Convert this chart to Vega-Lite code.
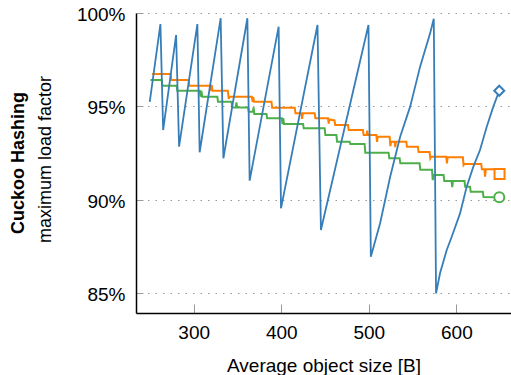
{
  "$schema": "https://vega.github.io/schema/vega-lite/v6.json",
  "width": 375,
  "height": 300,
  "autosize": {"type": "none"},
  "padding": {"left": 136, "top": 13, "right": 0, "bottom": 62},
  "background": "white",
  "config": {
    "view": {"stroke": null},
    "font": "Liberation Sans",
    "axis": {
      "domainColor": "black",
      "domainWidth": 1.5,
      "ticks": false,
      "labelColor": "black",
      "labelFont": "Liberation Sans",
      "labelFontSize": 19,
      "titleFont": "Liberation Sans",
      "titleColor": "black",
      "titleFontWeight": "normal"
    }
  },
  "title": {
    "text": "Cuckoo Hashing",
    "orient": "left",
    "anchor": "middle",
    "font": "Liberation Sans",
    "fontSize": 18,
    "fontWeight": "bold",
    "color": "black",
    "offset": 8
  },
  "datasets": {
    "curves": [
      {"series": "s1", "size": 249.8, "load": 95.25},
      {"series": "s1", "size": 262.0, "load": 99.41},
      {"series": "s1", "size": 265.1, "load": 93.74},
      {"series": "s1", "size": 279.9, "load": 98.82},
      {"series": "s1", "size": 283.3, "load": 92.85},
      {"series": "s1", "size": 304.2, "load": 99.41},
      {"series": "s1", "size": 306.8, "load": 92.55},
      {"series": "s1", "size": 330.8, "load": 99.72},
      {"series": "s1", "size": 333.9, "load": 92.23},
      {"series": "s1", "size": 361.3, "load": 99.72},
      {"series": "s1", "size": 363.9, "load": 91.03},
      {"series": "s1", "size": 397.0, "load": 99.27},
      {"series": "s1", "size": 399.7, "load": 89.55},
      {"series": "s1", "size": 441.4, "load": 99.36},
      {"series": "s1", "size": 445.3, "load": 88.39},
      {"series": "s1", "size": 499.6, "load": 99.36},
      {"series": "s1", "size": 502.3, "load": 86.96},
      {"series": "s1", "size": 512.9, "load": 88.75},
      {"series": "s1", "size": 524.4, "load": 91.24},
      {"series": "s1", "size": 535.8, "load": 93.38},
      {"series": "s1", "size": 547.2, "load": 94.99},
      {"series": "s1", "size": 558.6, "load": 97.13},
      {"series": "s1", "size": 570.0, "load": 98.91},
      {"series": "s1", "size": 574.2, "load": 99.69},
      {"series": "s1", "size": 576.8, "load": 85.0},
      {"series": "s1", "size": 581.4, "load": 86.09},
      {"series": "s1", "size": 589.0, "load": 87.32},
      {"series": "s1", "size": 594.7, "load": 88.03},
      {"series": "s1", "size": 604.2, "load": 89.28},
      {"series": "s1", "size": 611.8, "load": 90.71},
      {"series": "s1", "size": 619.4, "load": 91.78},
      {"series": "s1", "size": 627.0, "load": 92.67},
      {"series": "s1", "size": 634.7, "load": 93.92},
      {"series": "s1", "size": 642.2, "load": 94.99},
      {"series": "s1", "size": 649.0, "load": 95.84},

      {"series": "s2", "size": 252.5, "load": 96.74},
      {"series": "s2", "size": 273.6, "load": 96.74},
      {"series": "s2", "size": 274.4, "load": 96.42},
      {"series": "s2", "size": 294.2, "load": 96.42},
      {"series": "s2", "size": 295.0, "load": 96.11},
      {"series": "s2", "size": 318.5, "load": 96.11},
      {"series": "s2", "size": 319.5, "load": 95.84},
      {"series": "s2", "size": 320.5, "load": 96.15},
      {"series": "s2", "size": 321.5, "load": 95.84},
      {"series": "s2", "size": 339.0, "load": 95.84},
      {"series": "s2", "size": 340.0, "load": 95.40},
      {"series": "s2", "size": 341.0, "load": 95.52},
      {"series": "s2", "size": 366.5, "load": 95.52},
      {"series": "s2", "size": 367.3, "load": 95.25},
      {"series": "s2", "size": 368.1, "load": 95.50},
      {"series": "s2", "size": 368.9, "load": 95.25},
      {"series": "s2", "size": 388.8, "load": 95.25},
      {"series": "s2", "size": 389.6, "load": 94.93},
      {"series": "s2", "size": 415.4, "load": 94.93},
      {"series": "s2", "size": 416.2, "load": 94.63},
      {"series": "s2", "size": 423.0, "load": 94.63},
      {"series": "s2", "size": 423.8, "load": 94.33},
      {"series": "s2", "size": 424.6, "load": 94.63},
      {"series": "s2", "size": 438.2, "load": 94.63},
      {"series": "s2", "size": 439.0, "load": 94.37},
      {"series": "s2", "size": 453.4, "load": 94.37},
      {"series": "s2", "size": 454.2, "load": 94.08},
      {"series": "s2", "size": 455.0, "load": 94.30},
      {"series": "s2", "size": 460.8, "load": 94.25},
      {"series": "s2", "size": 461.6, "load": 94.01},
      {"series": "s2", "size": 476.2, "load": 94.01},
      {"series": "s2", "size": 477.0, "load": 93.74},
      {"series": "s2", "size": 493.3, "load": 93.74},
      {"series": "s2", "size": 494.1, "load": 93.47},
      {"series": "s2", "size": 497.4, "load": 93.47},
      {"series": "s2", "size": 498.2, "load": 93.71},
      {"series": "s2", "size": 499.0, "load": 93.47},
      {"series": "s2", "size": 508.6, "load": 93.47},
      {"series": "s2", "size": 509.4, "load": 93.11},
      {"series": "s2", "size": 510.2, "load": 93.38},
      {"series": "s2", "size": 523.8, "load": 93.38},
      {"series": "s2", "size": 524.6, "load": 92.88},
      {"series": "s2", "size": 525.4, "load": 93.11},
      {"series": "s2", "size": 529.4, "load": 93.11},
      {"series": "s2", "size": 530.2, "load": 92.83},
      {"series": "s2", "size": 531.0, "load": 93.11},
      {"series": "s2", "size": 542.8, "load": 93.11},
      {"series": "s2", "size": 543.6, "load": 92.85},
      {"series": "s2", "size": 556.0, "load": 92.85},
      {"series": "s2", "size": 556.8, "load": 92.56},
      {"series": "s2", "size": 569.4, "load": 92.56},
      {"series": "s2", "size": 570.2, "load": 92.23},
      {"series": "s2", "size": 571.0, "load": 92.31},
      {"series": "s2", "size": 588.4, "load": 92.31},
      {"series": "s2", "size": 589.2, "load": 91.96},
      {"series": "s2", "size": 590.0, "load": 92.28},
      {"series": "s2", "size": 607.4, "load": 92.28},
      {"series": "s2", "size": 608.2, "load": 91.87},
      {"series": "s2", "size": 609.0, "load": 91.92},
      {"series": "s2", "size": 628.4, "load": 91.92},
      {"series": "s2", "size": 629.2, "load": 91.64},
      {"series": "s2", "size": 632.0, "load": 91.64},
      {"series": "s2", "size": 632.8, "load": 91.24},
      {"series": "s2", "size": 633.6, "load": 91.64},
      {"series": "s2", "size": 645.0, "load": 91.64},
      {"series": "s2", "size": 645.8, "load": 91.39},
      {"series": "s2", "size": 649.3, "load": 91.39},

      {"series": "s3", "size": 250.6, "load": 96.42},
      {"series": "s3", "size": 263.4, "load": 96.42},
      {"series": "s3", "size": 264.2, "load": 96.11},
      {"series": "s3", "size": 280.5, "load": 96.11},
      {"series": "s3", "size": 281.3, "load": 95.84},
      {"series": "s3", "size": 307.0, "load": 95.84},
      {"series": "s3", "size": 307.8, "load": 95.52},
      {"series": "s3", "size": 308.8, "load": 95.83},
      {"series": "s3", "size": 309.8, "load": 95.52},
      {"series": "s3", "size": 327.0, "load": 95.52},
      {"series": "s3", "size": 327.8, "load": 95.25},
      {"series": "s3", "size": 343.2, "load": 95.25},
      {"series": "s3", "size": 344.0, "load": 94.94},
      {"series": "s3", "size": 348.0, "load": 94.94},
      {"series": "s3", "size": 348.8, "load": 95.22},
      {"series": "s3", "size": 349.6, "load": 94.94},
      {"series": "s3", "size": 362.1, "load": 94.94},
      {"series": "s3", "size": 362.9, "load": 94.72},
      {"series": "s3", "size": 367.6, "load": 94.72},
      {"series": "s3", "size": 368.4, "load": 94.95},
      {"series": "s3", "size": 369.2, "load": 94.60},
      {"series": "s3", "size": 383.1, "load": 94.60},
      {"series": "s3", "size": 383.9, "load": 94.37},
      {"series": "s3", "size": 400.6, "load": 94.37},
      {"series": "s3", "size": 401.4, "load": 94.06},
      {"series": "s3", "size": 402.3, "load": 94.37},
      {"series": "s3", "size": 403.2, "load": 94.06},
      {"series": "s3", "size": 424.9, "load": 94.06},
      {"series": "s3", "size": 425.7, "load": 93.83},
      {"series": "s3", "size": 449.6, "load": 93.83},
      {"series": "s3", "size": 450.4, "load": 93.47},
      {"series": "s3", "size": 463.0, "load": 93.47},
      {"series": "s3", "size": 463.8, "load": 93.11},
      {"series": "s3", "size": 478.1, "load": 93.11},
      {"series": "s3", "size": 478.9, "load": 92.99},
      {"series": "s3", "size": 495.2, "load": 92.99},
      {"series": "s3", "size": 496.0, "load": 92.53},
      {"series": "s3", "size": 522.6, "load": 92.53},
      {"series": "s3", "size": 523.4, "load": 92.23},
      {"series": "s3", "size": 535.2, "load": 92.23},
      {"series": "s3", "size": 536.0, "load": 91.96},
      {"series": "s3", "size": 558.0, "load": 91.96},
      {"series": "s3", "size": 558.8, "load": 91.62},
      {"series": "s3", "size": 572.2, "load": 91.62},
      {"series": "s3", "size": 573.0, "load": 91.06},
      {"series": "s3", "size": 573.8, "load": 91.33},
      {"series": "s3", "size": 585.4, "load": 91.33},
      {"series": "s3", "size": 586.2, "load": 91.01},
      {"series": "s3", "size": 594.5, "load": 91.01},
      {"series": "s3", "size": 595.3, "load": 90.69},
      {"series": "s3", "size": 596.1, "load": 91.01},
      {"series": "s3", "size": 609.3, "load": 91.01},
      {"series": "s3", "size": 610.1, "load": 90.71},
      {"series": "s3", "size": 615.6, "load": 90.71},
      {"series": "s3", "size": 616.4, "load": 90.44},
      {"series": "s3", "size": 630.2, "load": 90.44},
      {"series": "s3", "size": 631.0, "load": 90.16},
      {"series": "s3", "size": 649.0, "load": 90.14}
    ],
    "ends": [
      {"series": "s1", "size": 649.0, "load": 95.84},
      {"series": "s2", "size": 649.3, "load": 91.39},
      {"series": "s3", "size": 649.0, "load": 90.14}
    ]
  },
  "encoding": {
    "x": {
      "field": "size",
      "type": "quantitative",
      "scale": {"domain": [234.1, 662.4], "nice": false, "zero": false},
      "axis": {
        "title": "Average object size [B]",
        "values": [300, 400, 500, 600],
        "grid": true,
        "gridColor": "#999999",
        "gridWidth": 1,
        "gridDash": [9, 291],
        "gridDashOffset": 9,
        "labelPadding": 10.5,
        "titleFontSize": 19,
        "titleBaseline": "alphabetic",
        "titleY": 58.5
      }
    },
    "y": {
      "field": "load",
      "type": "quantitative",
      "scale": {"domain": [83.95, 100], "nice": false, "zero": false},
      "axis": {
        "title": "maximum load factor",
        "values": [85, 90, 95, 100],
        "labelExpr": "datum.value + '%'",
        "grid": true,
        "gridColor": "#999999",
        "gridWidth": 1.2,
        "gridDash": [7, 4.5, 1.5, 6, 1.5, 6, 1.5, 6, 1.5, 6, 1.5, 6, 1.5, 6, 1.5, 6, 1.5, 6, 1.5, 6, 1.5, 6, 1.5, 6, 1.5, 6, 1.5, 6, 1.5, 6, 1.5, 6, 1.5, 6, 1.5, 6, 1.5, 6, 1.5, 6, 1.5, 6, 1.5, 6, 1.5, 6, 1.5, 6, 1.5, 6, 1.5, 6, 1.5, 6, 1.5, 6, 1.5, 6, 1.5, 6, 1.5, 6, 1.5, 6, 1.5, 6, 1.5, 6, 1.5, 6, 1.5, 6, 1.5, 6, 1.5, 6, 1.5, 6, 1.5, 6, 1.5, 6, 1.5, 6, 1.5, 6, 1.5, 6, 1.5, 6, 1.5, 6, 1.5, 6, 1.5, 6, 1.5, 6, 1.5, 6, 1.5, 6, 1.5, 6],
        "labelPadding": 11,
        "labelOffset": 1.5,
        "titleFontSize": 18,
        "titleAngle": 270,
        "titleAlign": "center",
        "titleBaseline": "alphabetic",
        "titleX": -86,
        "titleY": 146
      }
    },
    "color": {
      "field": "series",
      "type": "nominal",
      "scale": {"domain": ["s1", "s2", "s3"], "range": ["#377eb8", "#ff7f00", "#4daf4a"]},
      "legend": null
    }
  },
  "layer": [
    {
      "data": {"name": "curves"},
      "transform": [{"filter": "datum.series !== 's1'"}],
      "mark": {"type": "line", "interpolate": "linear", "strokeWidth": 2}
    },
    {
      "data": {"name": "curves"},
      "transform": [{"filter": "datum.series === 's1'"}],
      "mark": {"type": "line", "interpolate": "linear", "strokeWidth": 1.8}
    },
    {
      "data": {"name": "ends"},
      "mark": {"type": "point", "filled": false, "fill": "white", "fillOpacity": 1, "strokeWidth": 2, "opacity": 1},
      "encoding": {
        "shape": {
          "field": "series",
          "type": "nominal",
          "scale": {"domain": ["s1", "s2", "s3"], "range": ["diamond", "square", "circle"]},
          "legend": null
        },
        "size": {"value": 100}
      }
    }
  ]
}
